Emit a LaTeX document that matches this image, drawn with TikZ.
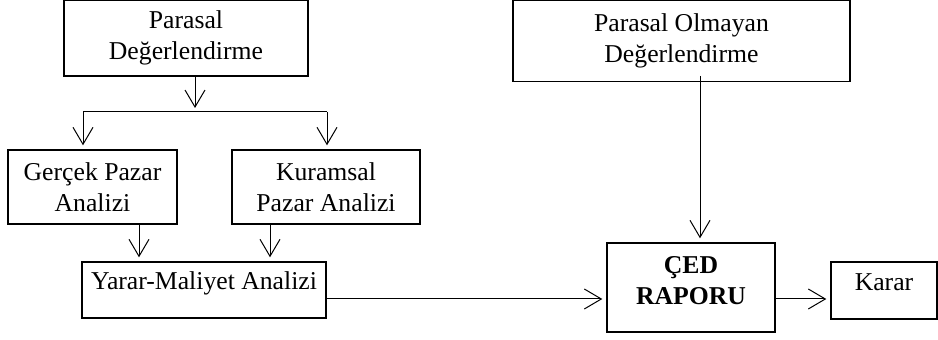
\documentclass[tikz,border=0pt]{standalone}
\usepackage{fontspec}
\setmainfont{Liberation Serif}
\usetikzlibrary{arrows.meta,positioning}
\tikzset{box/.style={draw,line width=0.7pt,align=center,inner sep=0pt,font=\fontsize{12.85pt}{15.5pt}\selectfont}}
\tikzset{one line/.style={box,text height=8.75pt,text depth=8.75pt}}
\tikzset{flow/.style={line width=0.5pt,-{Straight Barb[length=8.5pt,width=10pt]},shorten >=2pt}}

\begin{document}
\begin{tikzpicture}[x=0.5pt,y=-0.5pt]
\useasboundingbox (0,0) rectangle (938,340);
% parasal side
\node[box,minimum width=122pt,minimum height=37.75pt](parasal) at (186,38.25){Parasal\\Değerlendirme};
\node[box,minimum width=84.5pt,minimum height=37pt](gercek) at (92.5,187){Gerçek Pazar\\Analizi};
\node[box,minimum width=94pt,minimum height=37pt](kuramsal) at (326,187){Kuramsal\\Pazar Analizi};
\node[one line,minimum width=122pt,minimum height=28pt](yarar) at (204,290){Yarar-Maliyet Analizi};
% parasal olmayan side
\node[box,minimum width=168.5pt,minimum height=40.5pt](olmayan) at (681.5,40.75){Parasal Olmayan\\Değerlendirme};
\node[box,minimum width=84pt,minimum height=44.5pt,text depth=7.5pt,font=\fontsize{12.85pt}{15.5pt}\selectfont\bfseries](ced) at (691,287.5){ÇED\\RAPORU};
\node[one line,minimum width=53pt,minimum height=28.5pt](karar)[right of=ced,node distance=96.5pt,yshift=-1.5pt]{Karar};

\coordinate (split) at (195,112);
\coordinate (left) at (83,112);
\coordinate (right) at (327,112);
\draw[flow] ([xshift=4.5pt]parasal.south) -- (split);
\draw[line width=0.5pt] (left) -- (right);
\draw[flow] (left) -- (left |- gercek.north);
\draw[flow] (right) -- (right |- kuramsal.north);
\draw[flow] ([xshift=23.25pt]gercek.south) coordinate (g) -- (g |- yarar.north);
\draw[flow] ([xshift=-28pt]kuramsal.south) coordinate (k) -- (k |- yarar.north);
\draw[flow] ([yshift=-4.5pt]yarar.east) coordinate (out) -- (out -| ced.west);
\draw[flow] (out -| ced.east) -- (out -| karar.west);
\draw[flow] ([xshift=9.25pt,yshift=3pt]olmayan.south) -- ([xshift=4.5pt]ced.north);
\end{tikzpicture}
\end{document}
